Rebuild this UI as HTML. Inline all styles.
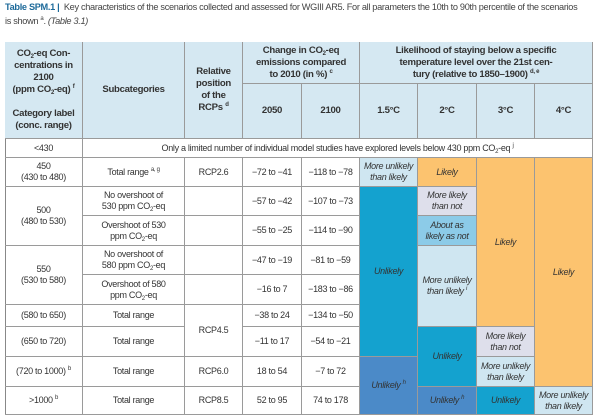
<!DOCTYPE html>
<html><head><meta charset="utf-8"><style>
body{margin:0;width:600px;height:420px;background:#fff;font-family:"Liberation Sans",sans-serif;color:#333;position:relative;overflow:hidden}
.t{position:absolute;left:5px;font-size:9.2px;color:#444;white-space:nowrap;letter-spacing:-0.32px}
.c{position:absolute;box-sizing:border-box;display:flex;align-items:center;justify-content:center;text-align:center;font-size:9px;line-height:11px;border-right:1px solid #9a9a9a;border-bottom:1px solid #9a9a9a;color:#333;letter-spacing:-0.3px}
.c>span{display:block}
.h{background:#d5e8f2;font-weight:bold;font-size:9.6px;line-height:12px;color:#333}
.i{font-style:italic}
.o{background:#fcc36f}.lb{background:#cfe6f1}.dc{background:#14a2cf}.mb{background:#4b8ac8}.lv{background:#dedfeb}.ab{background:#8ccbe8}
sub{font-size:6px;vertical-align:-2px;line-height:0}
sup{font-size:6px;line-height:0;vertical-align:4px}
</style></head><body>
<div class="t" style="top:2px"><b style="color:#1d6a9a">Table SPM.1 |</b>&nbsp; Key characteristics of the scenarios collected and assessed for WGIII AR5. For all parameters the 10th to 90th percentile of the scenarios</div>
<div class="t" style="top:16px">is shown <sup>a</sup>. <i>(Table 3.1)</i></div>
<div style="position:absolute;left:5px;top:42px;width:588px;height:373px;border:1px solid #888;box-sizing:border-box"></div>

<div class="c h" style="left:5px;top:42px;width:78px;height:97px"><span>CO<sub>2</sub>-eq Con-<br>centrations in<br>2100<br>(ppm CO<sub>2</sub>-eq) <sup>f</sup><br><br>Category label<br>(conc. range)</span></div>
<div class="c h" style="left:83px;top:42px;width:102px;height:97px"><span>Subcategories</span></div>
<div class="c h" style="left:185px;top:42px;width:58px;height:97px"><span>Relative<br>position<br>of the<br>RCPs <sup>d</sup></span></div>
<div class="c h" style="left:243px;top:42px;width:117px;height:42px"><span>Change in CO<sub>2</sub>-eq<br>emissions compared<br>to 2010 (in %) <sup>c</sup></span></div>
<div class="c h" style="left:360px;top:42px;width:233px;height:42px"><span>Likelihood of staying below a specific<br>temperature level over the 21st cen-<br>tury (relative to 1850–1900) <sup>d, e</sup></span></div>
<div class="c h" style="left:243px;top:84px;width:59px;height:55px"><span>2050</span></div>
<div class="c h" style="left:302px;top:84px;width:58px;height:55px"><span>2100</span></div>
<div class="c h" style="left:360px;top:84px;width:58px;height:55px"><span>1.5°C</span></div>
<div class="c h" style="left:418px;top:84px;width:59px;height:55px"><span>2°C</span></div>
<div class="c h" style="left:477px;top:84px;width:58px;height:55px"><span>3°C</span></div>
<div class="c h" style="left:535px;top:84px;width:58px;height:55px"><span>4°C</span></div>

<div class="c" style="left:5px;top:139px;width:78px;height:19px"><span>&lt;430</span></div>
<div class="c" style="left:83px;top:139px;width:510px;height:19px"><span>Only a limited number of individual model studies have explored levels below 430 ppm CO<sub>2</sub>-eq <sup>j</sup></span></div>

<div class="c" style="left:5px;top:158px;width:78px;height:29px"><span>450<br>(430 to 480)</span></div>
<div class="c" style="left:5px;top:187px;width:78px;height:59px"><span>500<br>(480 to 530)</span></div>
<div class="c" style="left:5px;top:246px;width:78px;height:59px"><span>550<br>(530 to 580)</span></div>
<div class="c" style="left:5px;top:305px;width:78px;height:22px"><span>(580 to 650)</span></div>
<div class="c" style="left:5px;top:327px;width:78px;height:30px"><span>(650 to 720)</span></div>
<div class="c" style="left:5px;top:357px;width:78px;height:30px"><span>(720 to 1000) <sup>b</sup></span></div>
<div class="c" style="left:5px;top:387px;width:78px;height:28px"><span>&gt;1000 <sup>b</sup></span></div>

<div class="c" style="left:83px;top:158px;width:102px;height:29px"><span>Total range <sup>a, g</sup></span></div>
<div class="c" style="left:83px;top:187px;width:102px;height:29px"><span>No overshoot of<br>530 ppm CO<sub>2</sub>-eq</span></div>
<div class="c" style="left:83px;top:216px;width:102px;height:30px"><span>Overshoot of 530<br>ppm CO<sub>2</sub>-eq</span></div>
<div class="c" style="left:83px;top:246px;width:102px;height:29px"><span>No overshoot of<br>580 ppm CO<sub>2</sub>-eq</span></div>
<div class="c" style="left:83px;top:275px;width:102px;height:30px"><span>Overshoot of 580<br>ppm CO<sub>2</sub>-eq</span></div>
<div class="c" style="left:83px;top:305px;width:102px;height:22px"><span>Total range</span></div>
<div class="c" style="left:83px;top:327px;width:102px;height:30px"><span>Total range</span></div>
<div class="c" style="left:83px;top:357px;width:102px;height:30px"><span>Total range</span></div>
<div class="c" style="left:83px;top:387px;width:102px;height:28px"><span>Total range</span></div>

<div class="c" style="left:185px;top:158px;width:58px;height:29px"><span>RCP2.6</span></div>
<div class="c" style="left:185px;top:187px;width:58px;height:29px"></div>
<div class="c" style="left:185px;top:216px;width:58px;height:30px"></div>
<div class="c" style="left:185px;top:246px;width:58px;height:29px"></div>
<div class="c" style="left:185px;top:275px;width:58px;height:30px"></div>
<div class="c" style="left:185px;top:305px;width:58px;height:52px"><span>RCP4.5</span></div>
<div class="c" style="left:185px;top:357px;width:58px;height:30px"><span>RCP6.0</span></div>
<div class="c" style="left:185px;top:387px;width:58px;height:28px"><span>RCP8.5</span></div>

<div class="c" style="left:243px;top:158px;width:59px;height:29px"><span>−72 to −41</span></div>
<div class="c" style="left:243px;top:187px;width:59px;height:29px"><span>−57 to −42</span></div>
<div class="c" style="left:243px;top:216px;width:59px;height:30px"><span>−55 to −25</span></div>
<div class="c" style="left:243px;top:246px;width:59px;height:29px"><span>−47 to −19</span></div>
<div class="c" style="left:243px;top:275px;width:59px;height:30px"><span>−16 to 7</span></div>
<div class="c" style="left:243px;top:305px;width:59px;height:22px"><span>−38 to 24</span></div>
<div class="c" style="left:243px;top:327px;width:59px;height:30px"><span>−11 to 17</span></div>
<div class="c" style="left:243px;top:357px;width:59px;height:30px"><span>18 to 54</span></div>
<div class="c" style="left:243px;top:387px;width:59px;height:28px"><span>52 to 95</span></div>

<div class="c" style="left:302px;top:158px;width:58px;height:29px"><span>−118 to −78</span></div>
<div class="c" style="left:302px;top:187px;width:58px;height:29px"><span>−107 to −73</span></div>
<div class="c" style="left:302px;top:216px;width:58px;height:30px"><span>−114 to −90</span></div>
<div class="c" style="left:302px;top:246px;width:58px;height:29px"><span>−81 to −59</span></div>
<div class="c" style="left:302px;top:275px;width:58px;height:30px"><span>−183 to −86</span></div>
<div class="c" style="left:302px;top:305px;width:58px;height:22px"><span>−134 to −50</span></div>
<div class="c" style="left:302px;top:327px;width:58px;height:30px"><span>−54 to −21</span></div>
<div class="c" style="left:302px;top:357px;width:58px;height:30px"><span>−7 to 72</span></div>
<div class="c" style="left:302px;top:387px;width:58px;height:28px"><span>74 to 178</span></div>

<div class="c i lb" style="left:360px;top:158px;width:58px;height:29px"><span>More unlikely<br>than likely</span></div>
<div class="c i dc" style="left:360px;top:187px;width:58px;height:170px"><span>Unlikely</span></div>
<div class="c i mb" style="left:360px;top:357px;width:58px;height:58px"><span>Unlikely <sup>h</sup></span></div>

<div class="c i o" style="left:418px;top:158px;width:59px;height:29px"><span>Likely</span></div>
<div class="c i lv" style="left:418px;top:187px;width:59px;height:29px"><span>More likely<br>than not</span></div>
<div class="c i ab" style="left:418px;top:216px;width:59px;height:30px"><span>About as<br>likely as not</span></div>
<div class="c i lb" style="left:418px;top:246px;width:59px;height:81px"><span>More unlikely<br>than likely <sup>i</sup></span></div>
<div class="c i dc" style="left:418px;top:327px;width:59px;height:60px"><span>Unlikely</span></div>
<div class="c i mb" style="left:418px;top:387px;width:59px;height:28px"><span>Unlikely <sup>h</sup></span></div>

<div class="c i o" style="left:477px;top:158px;width:58px;height:169px"><span>Likely</span></div>
<div class="c i lv" style="left:477px;top:327px;width:58px;height:30px"><span>More likely<br>than not</span></div>
<div class="c i lb" style="left:477px;top:357px;width:58px;height:30px"><span>More unlikely<br>than likely</span></div>
<div class="c i dc" style="left:477px;top:387px;width:58px;height:28px"><span>Unlikely</span></div>

<div class="c i o" style="left:535px;top:158px;width:58px;height:229px"><span>Likely</span></div>
<div class="c i lb" style="left:535px;top:387px;width:58px;height:28px"><span>More unlikely<br>than likely</span></div>
</body></html>
